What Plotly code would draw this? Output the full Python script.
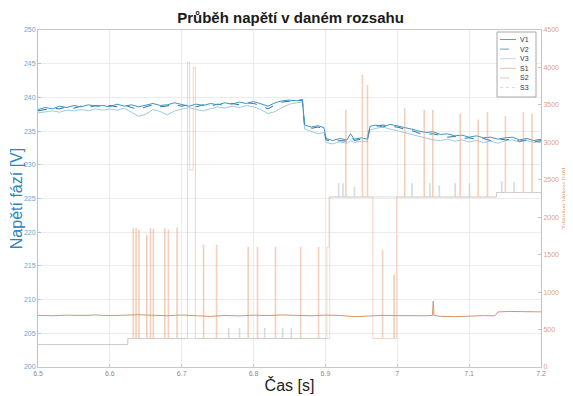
import plotly.graph_objects as go

# ---------------- data ----------------
t_v = [6.50, 6.51, 6.52, 6.53, 6.54, 6.55, 6.56, 6.57, 6.58, 6.59,
       6.60, 6.61, 6.62, 6.63, 6.64, 6.65, 6.66, 6.67, 6.68, 6.69,
       6.70, 6.71, 6.72, 6.73, 6.74, 6.75, 6.76, 6.77, 6.78, 6.79,
       6.80, 6.81, 6.82, 6.83, 6.84, 6.85, 6.86, 6.868, 6.871, 6.88,
       6.89, 6.898, 6.901, 6.91, 6.92, 6.93, 6.935, 6.94, 6.95, 6.958,
       6.962, 6.97, 6.98, 6.99, 7.00, 7.01, 7.02, 7.03, 7.04, 7.05,
       7.06, 7.07, 7.08, 7.09, 7.10, 7.11, 7.12, 7.13, 7.14, 7.15,
       7.16, 7.17, 7.18, 7.19, 7.20]

v1 = [238.2, 238.5, 238.3, 238.7, 238.5, 238.8, 238.6, 238.9, 238.7, 238.8,
      238.6, 239.0, 238.7, 238.9, 238.6, 238.9, 239.1, 238.8, 238.9, 239.2,
      238.9, 238.7, 239.0, 238.8, 239.1, 238.9, 239.2, 239.0, 239.3, 239.1,
      239.4, 239.0, 238.7, 239.2, 239.5, 239.6, 239.5, 239.7, 235.9, 235.6,
      235.8, 235.5, 233.9, 233.6, 233.9, 233.7, 234.6, 233.8, 234.0, 233.8,
      235.7, 235.9, 235.6, 236.0, 235.8, 235.6, 235.3, 235.0, 234.8, 234.9,
      234.5, 234.6, 234.3, 234.4, 234.1, 234.3, 234.0, 234.1, 233.8, 234.0,
      234.1, 233.7, 233.9, 233.6, 233.8]

v2 = [238.0, 238.2, 238.4, 238.3, 238.6, 238.4, 238.7, 238.5, 238.8, 238.6,
      238.8, 238.6, 238.9, 238.5, 238.2, 238.6, 238.9, 238.6, 238.8, 238.9,
      238.7, 238.9, 238.6, 238.9, 238.7, 239.0, 238.8, 239.1, 238.9, 239.2,
      239.1, 238.8, 238.3, 238.9, 239.3, 239.4, 239.6, 239.5, 235.7, 235.4,
      235.6, 235.3, 233.7, 233.4, 233.6, 233.5, 234.2, 233.6, 233.8, 233.6,
      235.5, 235.7, 235.9, 235.7, 235.6, 235.3, 235.1, 234.7, 234.5, 234.6,
      234.3, 234.1, 234.2, 233.9, 234.0, 233.8, 233.9, 233.6, 233.9, 233.7,
      233.8, 233.5, 233.7, 233.4, 233.6]

v3 = [237.7, 237.9, 238.0, 237.8, 238.1, 238.0, 238.2, 238.0, 238.3, 238.1,
      238.3, 238.1, 238.4, 237.8, 237.2, 237.5, 238.2, 237.9, 237.4, 238.0,
      238.3, 238.5, 238.2, 238.0, 238.3, 238.6, 238.4, 238.7, 238.5, 238.8,
      238.6, 238.2, 237.6, 237.9, 238.5, 239.0, 239.2, 239.3, 235.3, 235.0,
      234.6, 234.8, 233.3, 233.1, 233.4, 233.2, 233.6, 233.3, 233.5, 233.4,
      235.2, 235.4, 235.6, 235.3, 235.1, 234.8, 234.5, 234.2, 233.9, 233.7,
      233.6, 233.8, 233.5, 233.7, 233.4, 233.6, 233.3, 233.5, 233.2, 233.6,
      233.7, 233.4, 233.6, 233.3, 233.5]

s1_t = [6.50, 6.52, 6.54, 6.56, 6.58, 6.60, 6.62, 6.64, 6.66, 6.68,
        6.70, 6.72, 6.74, 6.76, 6.78, 6.80, 6.82, 6.84, 6.86, 6.88,
        6.90, 6.92, 6.94, 6.96, 6.98, 7.00, 7.02, 7.04, 7.049, 7.050,
        7.051, 7.06, 7.08, 7.10, 7.12, 7.136, 7.140, 7.155, 7.17, 7.19, 7.20]
s1_v = [690, 684, 693, 688, 695, 686, 692, 698, 690, 685,
        694, 689, 676, 688, 682, 692, 687, 695, 690, 684,
        693, 688, 672, 680, 690, 686, 680, 684, 690, 880,
        690, 676, 672, 680, 686, 684, 735, 742, 738, 732, 736]

# step series: time of each change and the value held from that time
s2_t = [6.500, 6.625, 6.632, 6.633, 6.636, 6.637, 6.640, 6.641, 6.651, 6.652,
        6.656, 6.657, 6.660, 6.661, 6.676, 6.677, 6.681, 6.682, 6.693, 6.694,
        6.708, 6.711, 6.716, 6.719, 6.730, 6.731, 6.748, 6.749, 6.792, 6.793,
        6.805, 6.806, 6.830, 6.831, 6.865, 6.866, 6.890, 6.891, 6.902, 6.905,
        6.928, 6.929, 6.951, 6.952, 6.958, 6.959, 6.966, 6.979, 6.980, 6.995,
        6.996, 6.999, 7.010, 7.011, 7.037, 7.038, 7.049, 7.050, 7.087, 7.088,
        7.112, 7.113, 7.125, 7.126, 7.138, 7.150, 7.151, 7.175, 7.176, 7.187,
        7.188, 7.200]
s2_v = [300, 380, 1850, 380, 1850, 380, 1830, 380, 1760, 380,
        1850, 380, 1840, 380, 1850, 380, 1830, 380, 1860, 380,
        4070, 2630, 4000, 380, 1630, 380, 1630, 380, 1600, 380,
        1600, 380, 1600, 380, 1600, 380, 1600, 380, 1600, 2270,
        3430, 2270, 3900, 2270, 3760, 2270, 380, 1560, 380, 1230,
        380, 2270, 3450, 2270, 3430, 2270, 3430, 2270, 3380, 2270,
        3300, 2270, 3400, 2270, 2330, 3350, 2330, 3400, 2330, 3380,
        2330, 2330]

s3_t = [6.500, 6.625, 6.765, 6.766, 6.780, 6.781, 6.815, 6.816, 6.840, 6.841,
        6.852, 6.853, 6.906, 6.918, 6.919, 6.924, 6.925, 6.940, 6.941, 7.020,
        7.021, 7.045, 7.046, 7.058, 7.059, 7.080, 7.081, 7.100, 7.101, 7.138,
        7.145, 7.146, 7.162, 7.163, 7.200]
s3_v = [300, 380, 520, 380, 520, 380, 520, 380, 520, 380,
        520, 380, 2270, 2450, 2270, 2450, 2270, 2400, 2270, 2450,
        2270, 2450, 2270, 2420, 2270, 2450, 2270, 2450, 2270, 2330,
        2480, 2330, 2470, 2330, 2330]

x_ticks = [6.5, 6.6, 6.7, 6.8, 6.9, 7.0, 7.1, 7.2]
x_ticktext = ["6.5", "6.6", "6.7", "6.8", "6.9", "7", "7.1", "7.2"]

legend_names = ["V1", "V2", "V3", "S1", "S2", "S3"]

# ---------------- styles ----------------
styles = {
    "V1": dict(color="#3f93c2", width=1, dash="solid"),
    "V2": dict(color="#2c6fa3", width=1, dash="dash"),
    "V3": dict(color="#9ccbe3", width=1, dash="solid"),
    "S1": dict(color="#d9936a", width=1, dash="solid"),
    "S2": dict(color="rgba(232,165,125,0.45)", width=1, dash="solid"),
    "S3": dict(color="rgba(180,196,212,0.5)", width=1, dash="solid"),
}
legend_sample = {
    "V1": dict(color="#5aa9a0", width=1, dash="solid"),
    "V2": dict(color="#7a9cb8", width=1, dash="dash"),
    "V3": dict(color="#c5dcea", width=1, dash="solid"),
    "S1": dict(color="#e3c3a6", width=1, dash="solid"),
    "S2": dict(color="#e8c8b0", width=1, dash="dash"),
    "S3": dict(color="#d5dde6", width=1, dash="dot"),
}

fig = go.Figure()
fig.add_trace(go.Scatter(x=s2_t, y=s2_v, name="S2", yaxis="y2", mode="lines",
                         line=dict(styles["S2"], shape="hv"), showlegend=False))
fig.add_trace(go.Scatter(x=s3_t, y=s3_v, name="S3", yaxis="y2", mode="lines",
                         line=dict(styles["S3"], shape="hv"), showlegend=False))
fig.add_trace(go.Scatter(x=s1_t, y=s1_v, name="S1", yaxis="y2", mode="lines",
                         line=styles["S1"], showlegend=False))
fig.add_trace(go.Scatter(x=t_v, y=v3, name="V3", mode="lines",
                         line=styles["V3"], showlegend=False))
fig.add_trace(go.Scatter(x=t_v, y=v2, name="V2", mode="lines",
                         line=styles["V2"], showlegend=False))
fig.add_trace(go.Scatter(x=t_v, y=v1, name="V1", mode="lines",
                         line=styles["V1"], showlegend=False))

# The page body has an 8 px margin, so the figure is 8 px smaller each way.
OFF = 8
W, H = 573 - OFF, 396 - OFF
# plot area in window pixels: x 38..541, y 30..367
PX0, PX1, PY0, PY1 = 38, 541, 30, 367
L, R = PX0 - OFF, W - (PX1 - OFF)
T, B = PY0 - OFF, H - (PY1 - OFF)
pw, ph = PX1 - PX0, PY1 - PY0

def px(xp):  # window pixel x -> paper x
    return (xp - PX0) / pw

def py(yp):  # window pixel y -> paper y
    return (PY1 - yp) / ph

shapes = [dict(type="rect", xref="paper", yref="paper",
               x0=px(497), x1=px(536), y0=py(97), y1=py(32),
               line=dict(color="#a8a8a8", width=1), fillcolor="white", layer="above")]
annotations = []
for i, nm in enumerate(legend_names):
    yy = py(39.5 + i * 9.6)
    shapes.append(dict(type="line", xref="paper", yref="paper",
                       x0=px(500), x1=px(516), y0=yy, y1=yy,
                       line=legend_sample[nm], layer="above"))
    annotations.append(dict(text=nm, xref="paper", yref="paper",
                            x=px(518), y=yy, xanchor="left", yanchor="middle",
                            showarrow=False,
                            font=dict(size=7, color="#333333")))

tick_font = dict(family="Liberation Sans, Arial, sans-serif", size=7)

fig.update_layout(
    width=W, height=H,
    margin=dict(l=L, r=R, t=T, b=B),
    paper_bgcolor="white", plot_bgcolor="white",
    font=dict(family="Liberation Sans, Arial, sans-serif"),
    showlegend=False,
    shapes=shapes, annotations=annotations,
    title=dict(text="<b>Průběh napětí v daném rozsahu</b>",
               x=0.5, xanchor="center", y=0.975, yanchor="middle",
               font=dict(size=15, color="#1a1a1a")),
    xaxis=dict(range=[6.5, 7.2], tickvals=x_ticks, ticktext=x_ticktext,
               automargin=False,
               showgrid=True, gridcolor="#ececec", gridwidth=1,
               showline=True, linecolor="#c8c8c8", mirror=True,
               ticks="inside", ticklen=3, tickcolor="#c8c8c8",
               tickfont=dict(tick_font, color="#8a8a8a"),
               zeroline=False,
               title=dict(text="Čas [s]", standoff=3,
                          font=dict(size=16, color="#222222"))),
    yaxis=dict(range=[200, 250], dtick=5, automargin=False,
               showgrid=True, gridcolor="#ececec", gridwidth=1,
               showline=True, linecolor="#a9c9de",
               ticks="inside", ticklen=3, tickcolor="#a9c9de",
               tickfont=dict(tick_font, color="#6aa6cc"),
               zeroline=False,
               title=dict(text="Napětí fází [V]", standoff=2,
                          font=dict(size=16, color="#2a86c0"))),
    yaxis2=dict(range=[0, 4500], dtick=500, overlaying="y", side="right",
                automargin=False,
                showgrid=False, showline=True, linecolor="#e6b898",
                ticks="inside", ticklen=3, tickcolor="#e6b898",
                tickfont=dict(tick_font, color="#e0a27a"),
                zeroline=False,
                title=dict(text="Zdánlivý Výkon [VA]", standoff=4,
                           font=dict(family="Liberation Sans, Arial, sans-serif",
                                     size=7, color="#e0a27a"))),
)

fig.write_html("out.html")
